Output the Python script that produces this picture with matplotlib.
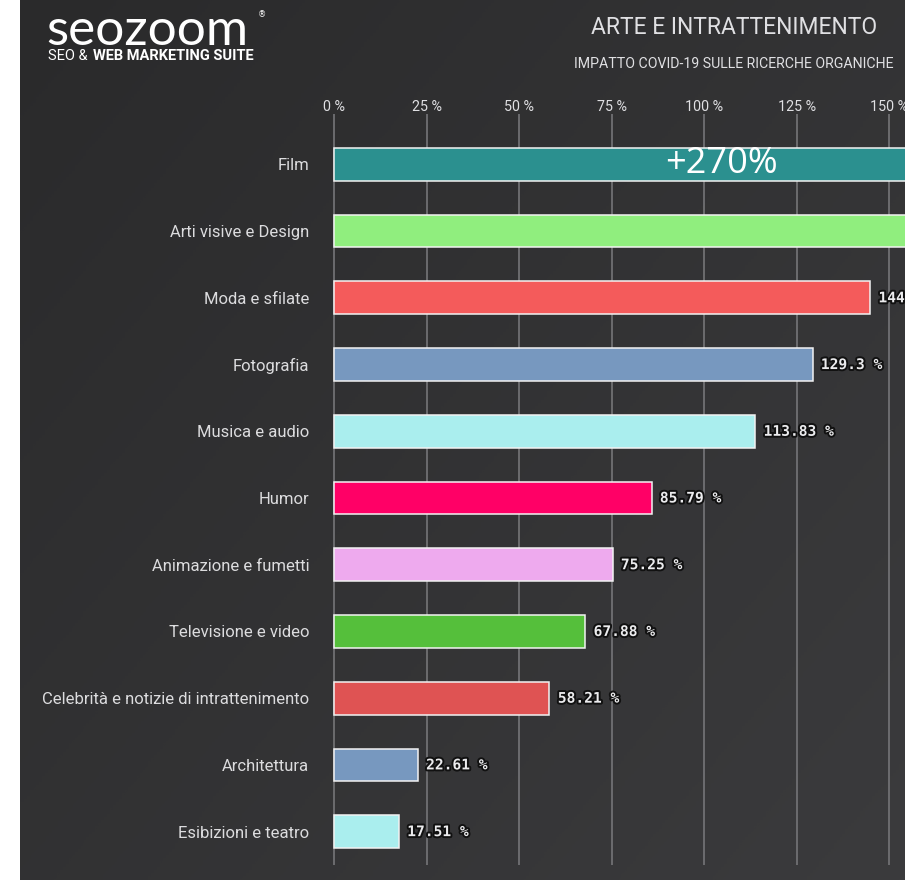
import numpy as np
import matplotlib
matplotlib.use("Agg")
import matplotlib.pyplot as plt
import matplotlib.patheffects as pe
from matplotlib.colors import LinearSegmentedColormap

# categories, top to bottom
categorie = [
    "Film",
    "Arti visive e Design",
    "Moda e sfilate",
    "Fotografia",
    "Musica e audio",
    "Humor",
    "Animazione e fumetti",
    "Televisione e video",
    "Celebrità e notizie di intrattenimento",
    "Architettura",
    "Esibizioni e teatro",
]
# organic search growth, %
valori = [270.0, 163.5, 144.87, 129.3, 113.83, 85.79, 75.25, 67.88, 58.21, 22.61, 17.51]
colori = ["#2b908f", "#90ee7e", "#f45b5b", "#7798bf", "#aaeeee", "#ff0066",
          "#eeaaee", "#55bf3b", "#df5353", "#7798bf", "#aaeeee"]
tick_valori = [0, 25, 50, 75, 100, 125, 150]

SANS = ["Roboto", "DejaVu Sans"]
W, H = 905, 880


def fx(px):
    return px / W


def fy(py):
    return 1 - py / H


def main():
    fig = plt.figure(figsize=(W / 100, H / 100), dpi=100, facecolor="white")

    # dark diagonal gradient panel
    bg = fig.add_axes([fx(20), 0, 1 - fx(20), 1], zorder=-5)
    gx, gy = np.meshgrid(np.linspace(0, 1, 300), np.linspace(0, 1, 300))
    grad = (gx * 0.55 + gy * 0.45)
    cmap = LinearSegmentedColormap.from_list("bg", ["#2a2a2b", "#3b3b3d"])
    bg.imshow(grad, cmap=cmap, aspect="auto", extent=(0, 1, 0, 1), origin="upper")
    bg.set_axis_off()

    ax = fig.add_axes([fx(333), fy(865), 1 - fx(333), (865 - 131) / H])
    ax.set_facecolor("none")
    y = np.arange(len(categorie))
    ax.barh(y, valori, height=0.49, color=colori, edgecolor="#f2f2f2",
            linewidth=1.1, zorder=3)

    ax.set_xlim(-0.3, 572 / 3.7 - 0.3)
    ax.set_ylim(len(categorie) - 0.5, -0.5)
    ax.set_axisbelow(True)
    ax.grid(axis="x", color="#707073", linewidth=1.3)
    for s in ax.spines.values():
        s.set_visible(False)

    ax.xaxis.tick_top()
    ax.set_xticks(tick_valori)
    ax.set_xticklabels([f"{t} %" for t in tick_valori], family=SANS,
                       fontsize=10.3, color="#e0e0e3")
    ax.tick_params(axis="x", length=12, width=1.3, color="#707073", pad=0.5)

    ax.set_yticks(y)
    ax.set_yticklabels(categorie, family=SANS, fontsize=12, color="#dcdcde")
    ax.tick_params(axis="y", length=0, pad=17)

    for i, v in enumerate(valori):
        ax.annotate(f"{v:g} %", xy=(v, i), xytext=(6, 0), textcoords="offset points",
                    va="center", ha="left", family="DejaVu Sans Mono",
                    fontweight="bold", fontsize=10.5, color="#ececee",
                    annotation_clip=False,
                    path_effects=[pe.withStroke(linewidth=2.8, foreground="#111111")])

    ax.text(104.6, 0, "+" + f"{valori[0]:g}" + "%", ha="center", va="center",
            family=["Open Sans", "DejaVu Sans"], fontsize=26, color="white", zorder=5)

    # titles
    fig.text(fx(734), fy(27), "ARTE E INTRATTENIMENTO", ha="center", va="center",
             family=SANS, fontsize=16.5, color="#e0e0e3")
    fig.text(fx(734), fy(64), "IMPATTO COVID-19 SULLE RICERCHE ORGANICHE", ha="center",
             va="center", family=SANS, fontsize=10.2, color="#e0e0e3")

    # brand mark
    fig.text(fx(46), fy(45), "seozoom", ha="left", va="baseline",
             family=["Lato", "DejaVu Sans"], fontsize=37, color="white")
    fig.text(fx(258), fy(15), "®", ha="left", va="center",
             family="DejaVu Sans", fontsize=6, color="white")
    fig.text(fx(48), fy(60), "SEO &", ha="left", va="baseline",
             family=SANS, fontsize=10.5, color="white")
    fig.text(fx(93), fy(60), "WEB MARKETING SUITE", ha="left", va="baseline",
             family=SANS, fontweight="bold", fontsize=10.5, color="white")

    fig.savefig("out.png", dpi=100, facecolor=fig.get_facecolor())


if __name__ == '__main__':
    main()
